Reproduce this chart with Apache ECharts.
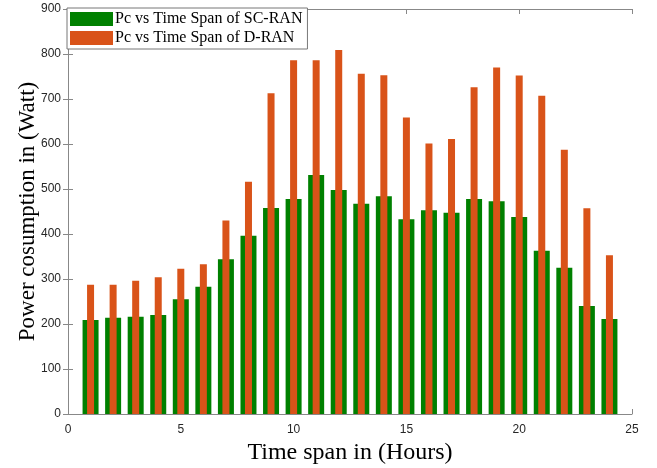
<!DOCTYPE html>
<html>
<head>
<meta charset="utf-8">
<script src="https://cdn.jsdelivr.net/npm/echarts@6/dist/echarts.min.js"></script>
<style>html,body{margin:0;padding:0;background:#fff}#c{width:657px;height:468px}</style>
</head>
<body>
<div id="c"></div>
<script>
const hours = [1,2,3,4,5,6,7,8,9,10,11,12,13,14,15,16,17,18,19,20,21,22,23,24];
const scRan = [209,214,216,220,255,283,344,396,458,478,531,498,467,484,433,453,447,478,473,438,363,325,240,211];
const dRan = [287,287,296,304,323,333,430,516,713,786,786,809,756,753,659,601,611,726,770,752,707,587,457,353];
const xTicks = [0,5,10,15,20,25];
const yTicks = [0,100,200,300,400,500,600,700,800,900];
const seriesNames = ['Pc vs Time Span of SC-RAN','Pc vs Time Span of D-RAN'];

const chart = echarts.init(document.getElementById('c'), null, {renderer:'canvas'});
const axisCol = '#888888';
const labCol = '#262626';
const xBase = {
  type:'value', min:xTicks[0], max:xTicks[xTicks.length-1], interval:5,
  axisLine:{show:true, onZero:false, lineStyle:{color:axisCol, width:1}},
  axisTick:{show:true, inside:true, length:5, lineStyle:{color:axisCol}},
  splitLine:{show:false}
};
const yBase = {
  type:'value', min:yTicks[0], max:yTicks[yTicks.length-1], interval:100,
  axisLine:{show:true, lineStyle:{color:axisCol, width:1}},
  axisTick:{show:true, inside:true, length:5, lineStyle:{color:axisCol}},
  splitLine:{show:false}
};
chart.setOption({
  animation:false,
  backgroundColor:'#fff',
  grid:{left:68, right:25, top:9, bottom:54, containLabel:false, outerBoundsMode:'none'},
  legend:{
    show:true, orient:'vertical', left:67, top:8,
    backgroundColor:'#fff', borderColor:'#777', borderWidth:1,
    padding:[3,5,3,3], itemGap:3, itemWidth:43, itemHeight:14,
    icon:'rect',
    textStyle:{fontFamily:'Liberation Serif', fontSize:16, color:'#000', padding:[0,0,0,-3]},
    data:seriesNames
  },
  xAxis:[
    Object.assign({}, xBase, {position:'bottom',
      name:'Time span in (Hours)', nameLocation:'middle', nameGap:27, nameMoveOverlap:false,
      nameTextStyle:{fontFamily:'Liberation Serif', fontSize:24, color:'#000'},
      axisLabel:{show:true, margin:10, color:labCol, fontFamily:'Liberation Sans', fontSize:12}}),
    Object.assign({}, xBase, {position:'top', axisLabel:{show:false}})
  ],
  yAxis:[
    Object.assign({}, yBase, {position:'left',
      name:'Power cosumption in (Watt)', nameLocation:'middle', nameGap:29, nameMoveOverlap:false,
      nameTextStyle:{fontFamily:'Liberation Serif', fontSize:23, color:'#000'},
      axisLabel:{show:true, margin:7, color:labCol, fontFamily:'Liberation Sans', fontSize:12}}),
    Object.assign({}, yBase, {position:'right', axisLabel:{show:false}})
  ],
  series:[
    {name:seriesNames[0], type:'bar', xAxisIndex:0, yAxisIndex:0, barWidth:16,
     itemStyle:{color:'#008000'},
     data:hours.map((h,i)=>[h, scRan[i]])},
    {name:seriesNames[1], type:'bar', xAxisIndex:1, yAxisIndex:0, barWidth:7,
     itemStyle:{color:'#D95319'},
     data:hours.map((h,i)=>[h, dRan[i]])}
  ]
});
</script>
</body>
</html>
